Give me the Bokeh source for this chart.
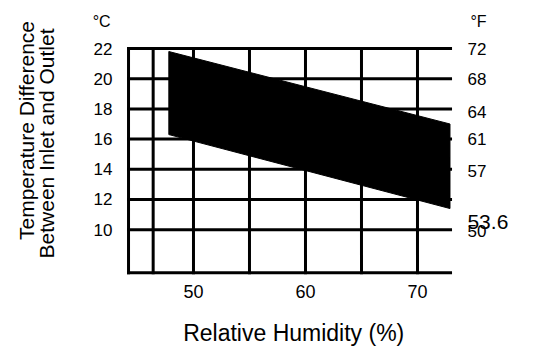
import math
from bokeh.plotting import figure
from bokeh.models import Range1d
from bokeh.core.properties import value
from bokeh.embed import file_html
from bokeh.resources import INLINE

# ---- data ----
humidity_edges = [47.8, 72.9]          # relative humidity (%) at the band's ends
upper_c = [21.8, 17.0]                 # upper bound of temperature difference (°C)
lower_c = [16.3, 11.4]                 # lower bound of temperature difference (°C)

x_tick_values = [50, 60, 70]
x_tick_labels = ["50", "60", "70"]
x_grid_values = [46.4, 50, 55, 60, 65, 70]
c_tick_values = [10, 12, 14, 16, 18, 20, 22]
c_tick_labels = ["10", "12", "14", "16", "18", "20", "22"]

f_tick_labels = ["72", "68", "64", "61", "57", "50"]
f_tick_positions = [22.0, 20.0, 17.8, 16.0, 13.9, 9.9]
f_extra_label = "53.6"
f_extra_position = 10.5

# chart box limits (data units)
x_left, x_right = 44.2, 72.95
y_bottom, y_top = 7.15, 22.0

FONT = "Liberation Sans"

p = figure(width=544, height=348,
           x_range=Range1d(32.77, 81.34), y_range=Range1d(2.13, 25.18),
           output_backend="svg", toolbar_location=None,
           min_border=0, min_border_left=0, min_border_right=0,
           min_border_top=0, min_border_bottom=0)
p.outline_line_color = None
p.axis.visible = False
p.grid.visible = False
p.background_fill_color = "white"
p.border_fill_color = "white"

# band
xs = [humidity_edges[0], humidity_edges[1], humidity_edges[1], humidity_edges[0]]
ys = [upper_c[0], upper_c[1], lower_c[1], lower_c[0]]
p.patch(xs, ys, fill_color="black", line_color="black", line_width=1)

# grid lines and box
hx0 = [x_left] * (len(c_tick_values) + 1)
hx1 = [x_right] * (len(c_tick_values) + 1)
hy = c_tick_values + [y_bottom]
p.segment(x0=hx0, y0=hy, x1=hx1, y1=hy, line_color="black", line_width=3, line_cap="square")
vx = x_grid_values + [x_left]
p.segment(x0=vx, y0=[y_bottom] * len(vx), x1=vx, y1=[y_top] * len(vx),
          line_color="black", line_width=3, line_cap="square")

# left (°C) tick labels
p.text(x=[42.77] * len(c_tick_values), y=c_tick_values, text=c_tick_labels,
       text_font=value(FONT), text_font_size=value("17px"), text_color="black",
       text_align="right", text_baseline="middle")
p.text(x=[42.6], y=[23.79], text=["°C"], text_font=value(FONT), text_font_size=value("16px"),
       text_color="black", text_align="right", text_baseline="middle")

# right (°F) tick labels
p.text(x=[74.46] * len(f_tick_positions), y=f_tick_positions, text=f_tick_labels,
       text_font=value(FONT), text_font_size=value("17px"), text_color="black",
       text_align="left", text_baseline="middle")
p.text(x=[74.73], y=[23.79], text=["°F"], text_font=value(FONT), text_font_size=value("16px"),
       text_color="black", text_align="left", text_baseline="middle")
p.text(x=[74.46], y=[f_extra_position], text=[f_extra_label], text_font=value(FONT),
       text_font_size=value("21px"), text_color="black", text_align="left",
       text_baseline="middle")

# bottom tick labels and title
p.text(x=x_tick_values, y=[5.91] * len(x_tick_values), text=x_tick_labels,
       text_font=value(FONT), text_font_size=value("18px"), text_color="black",
       text_align="center", text_baseline="middle")
p.text(x=[58.95], y=[3.13], text=["Relative Humidity (%)"], text_font=value(FONT),
       text_font_size=value("23px"), text_color="black", text_align="center",
       text_baseline="middle")

# left title (two rotated lines)
p.text(x=[35.09, 36.88], y=[16.57, 15.71],
       text=["Temperature Difference", "Between Inlet and Outlet"],
       text_font=value(FONT), text_font_size=value("21px"), text_color="black",
       text_align="center", text_baseline="middle", angle=math.pi / 2)

open("out.html", "w").write(file_html(p, INLINE))
